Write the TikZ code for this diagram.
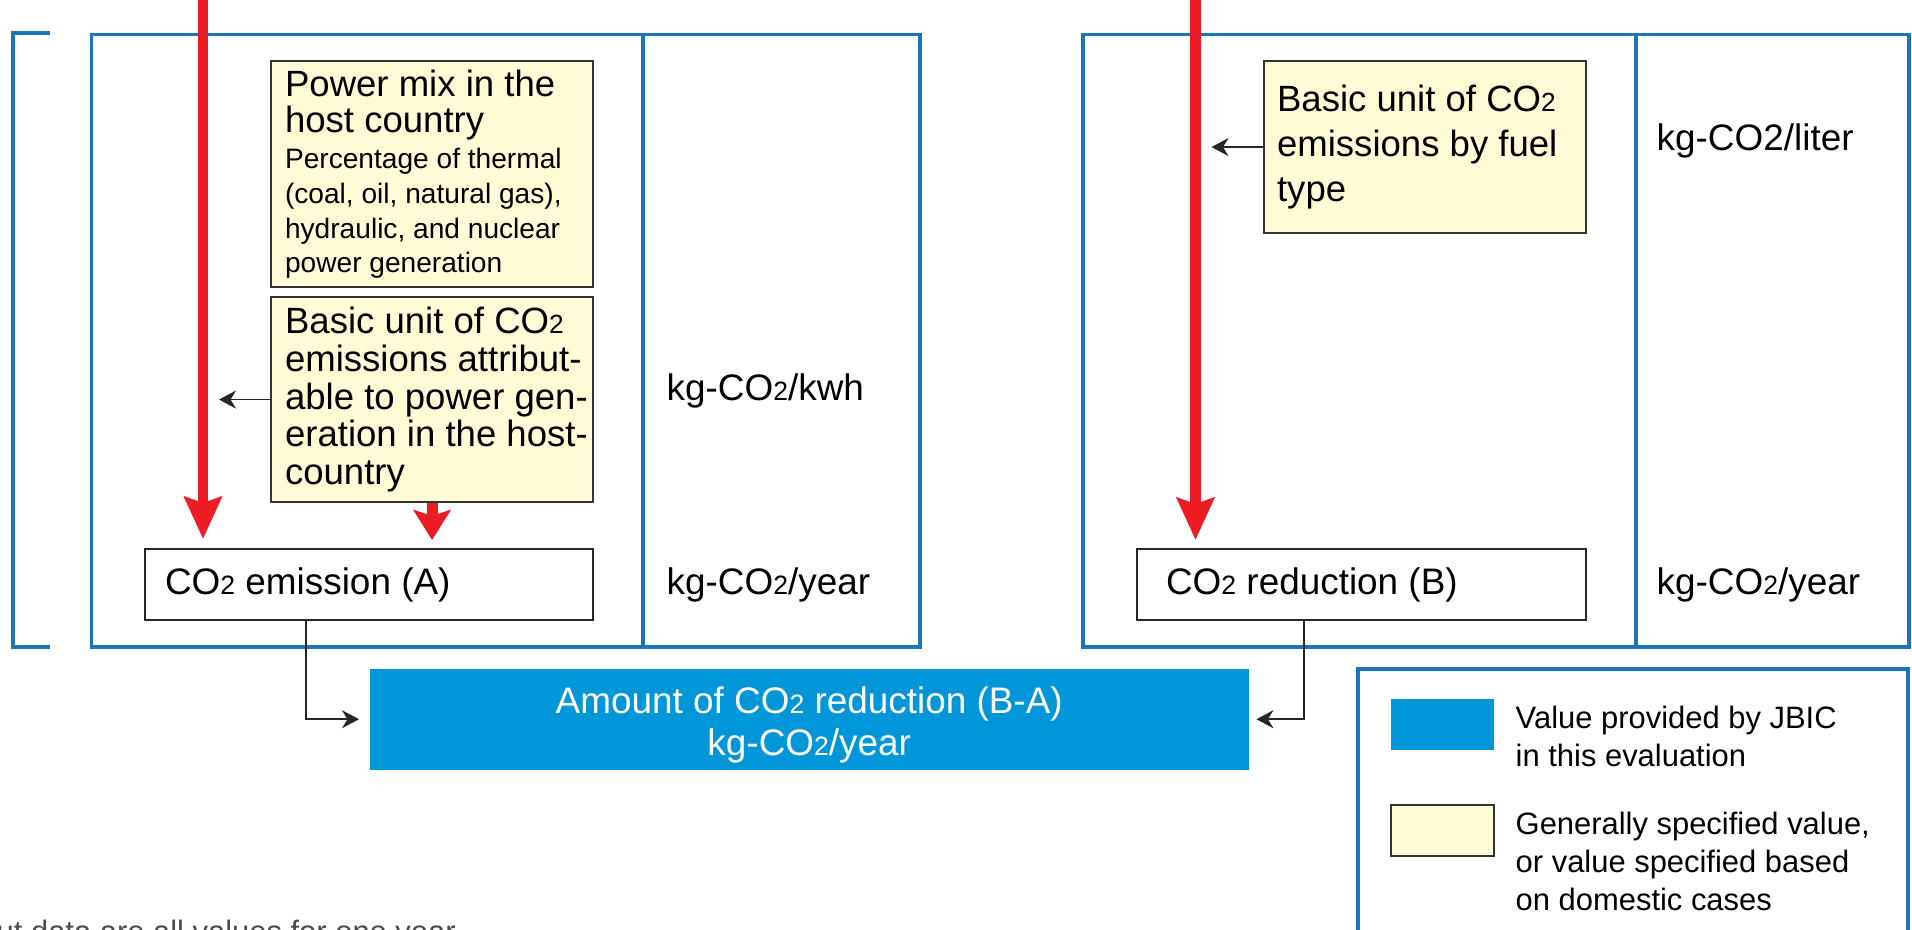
\documentclass[tikz,border=0pt]{standalone}
\usepackage{fontspec}
\setmainfont{Liberation Sans}
\usetikzlibrary{arrows.meta}

\definecolor{frameblue}{RGB}{27,117,188}
\definecolor{jbicblue}{RGB}{0,150,216}
\definecolor{notefill}{RGB}{255,251,214}
\definecolor{flowred}{RGB}{237,28,36}

% CO2 with the small figure two
\newcommand{\cotwo}{CO\scalebox{0.72}{2}}

\tikzset{
  panel/.style={draw=frameblue,line width=1pt},
  note/.style={draw=black!80,fill=notefill,line width=0.6pt,anchor=north west,
    align=flush left,inner xsep=0.01cm,inner ysep=0.05cm,text width=3.20cm,
    font=\fontsize{10.4}{10.8}\selectfont},
  valbox/.style={draw=black!85,line width=0.6pt,anchor=north west,align=flush left,
    minimum height=0.71cm,font=\fontsize{10.5}{12}\selectfont},
  unitlabel/.style={anchor=west,inner sep=0pt,font=\fontsize{10.5}{12}\selectfont},
  keytext/.style={anchor=west,inner sep=0pt,align=left,font=\fontsize{8.8}{10.8}\selectfont},
  redflow/.style={draw=flowred,line width=3.1pt,-{Stealth[length=#1,width=0.37cm,inset=0.06cm]}},
  redflow/.default=0.42cm,
  pointer/.style={draw=black!85,line width=0.5pt,-{Stealth[length=0.17cm,width=0.18cm]}},
}

\begin{document}
\begin{tikzpicture}
\useasboundingbox (0,0) rectangle (19.12,-9.29);

% bracket and the two panels
\draw[panel] (0.500,-0.330) -- (0.130,-0.330) -- (0.130,-6.470) -- (0.500,-6.470);
\draw[panel] (0.915,-0.345) rectangle (9.200,-6.470);
\draw[panel] (6.430,-0.345) -- (6.430,-6.470);
\draw[panel] (10.830,-0.345) rectangle (19.090,-6.470);
\draw[panel] (16.360,-0.345) -- (16.360,-6.470);

% left panel
\node[note,minimum height=2.26cm] (mix) at (2.700,-0.600)
  {\leftskip=0.13cm\fontsize{10.4}{10.3}\selectfont Power mix in the\\host country\par\vspace{0.6pt}
   \fontsize{8}{9.84}\selectfont Percentage of thermal\\(coal, oil, natural gas),\\hydraulic, and nuclear\\power generation\par};
\node[note,minimum height=2.05cm] (basicA) at (2.700,-2.960)
  {\leftskip=0.13cm Basic unit of \cotwo\\emissions attribut-\\able to power gen-\\eration in the host-\\country\par};
\node[valbox,inner xsep=0.2cm,text width=4.08cm] (emisA) at (1.440,-5.480) {\cotwo{} emission (A)};
\node[unitlabel] (kwh) at (6.660,-3.910) {kg-\cotwo/kwh};
\node[unitlabel] (yearA) at (6.660,-5.850) {kg-\cotwo/year};

% right panel
\node[note,minimum height=1.72cm,font=\fontsize{10.4}{12.8}\selectfont] (basicB) at (12.630,-0.600)
  {\leftskip=0.12cm Basic unit of \cotwo\\emissions by fuel\\type\par};
\node[valbox,inner xsep=0.29cm,text width=3.91cm] (redB) at (11.360,-5.480) {\cotwo{} reduction (B)};
\node[unitlabel] (liter) at (16.560,-1.410) {kg-CO2/liter};
\node[unitlabel] (yearB) at (16.560,-5.850) {kg-\cotwo/year};

% result
\node[fill=jbicblue,text=white,anchor=north west,inner sep=0pt,minimum width=8.79cm,
  minimum height=1.01cm,font=\fontsize{10.5}{11.7}\selectfont] (total) at (3.690,-6.680)
  {\raisebox{-0.07cm}[\height][\depth]{\begin{tabular}{@{}c@{}}Amount of \cotwo{} reduction (B-A)\\kg-\cotwo/year\end{tabular}}};

% red flows from above
\coordinate (topA) at (2.030,0.050);
\coordinate (topB) at (11.955,0.050);
\draw[redflow,shorten >=0.09cm] (topA) -- (topA |- emisA.north);
\draw[redflow=0.3cm,shorten >=0.08cm] (basicA.south) -- (basicA.south |- emisA.north);
\draw[redflow,shorten >=0.08cm] (topB) -- (topB |- redB.north);

% thin pointers
\draw[pointer,shorten >=0.16cm] (basicA.west) -- (basicA.west -| topA);
\draw[pointer,shorten >=0.16cm] (basicB.west) -- (basicB.west -| topB);
\draw[pointer,shorten >=0.10cm] ([xshift=1.62cm]emisA.south west) |- (total.west);
\draw[pointer,shorten >=0.07cm] ([xshift=1.68cm]redB.south west) |- (total.east);

% legend
\draw[panel] (13.580,-9.600) rectangle (19.080,-6.690);
\node[fill=jbicblue,anchor=north west,inner sep=0pt,minimum width=1.03cm,minimum height=0.51cm] (keyjbic) at (13.900,-6.980) {};
\node[draw=black!80,fill=notefill,line width=0.6pt,anchor=north west,inner sep=0pt,minimum width=1.03cm,minimum height=0.51cm] (keygeneral) at (13.900,-8.040) {};
\node[keytext] (keyjbictext) at (15.150,-7.360) {Value provided by JBIC\\in this evaluation};
\node[keytext] (keygeneraltext) at (15.150,-8.610) {Generally specified value,\\or value specified based\\on domestic cases};

\node[anchor=base west,inner sep=0pt,text=black!70,font=\fontsize{8.8}{10.8}\selectfont] (datanote) at (-0.040,-9.420) {ut data are all values for one year};
\end{tikzpicture}
\end{document}
